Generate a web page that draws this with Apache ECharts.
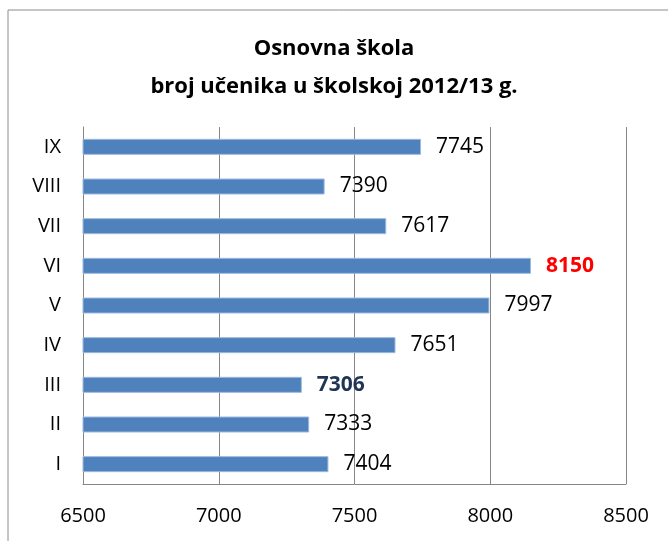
<!DOCTYPE html>
<html>
<head>
<meta charset="utf-8">
<script src="https://cdn.jsdelivr.net/npm/echarts@6/dist/echarts.min.js"></script>
<style>
  html, body { margin: 0; padding: 0; background: #fff; }
  #main { width: 668px; height: 541px; }
</style>
</head>
<body>
<div id="main"></div>
<script>
// razredi i broj ucenika
var categories = ['I', 'II', 'III', 'IV', 'V', 'VI', 'VII', 'VIII', 'IX'];
var values = [7404, 7333, 7306, 7651, 7997, 8150, 7617, 7390, 7745];
var xTicks = [6500, 7000, 7500, 8000, 8500];

var font = '"Open Sans", "Noto Sans", sans-serif';

var barData = values.map(function (v, i) {
  var item = { value: v };
  if (categories[i] === 'VI') {
    item.label = { color: '#ff0000', fontWeight: 'bold' };
  } else if (categories[i] === 'III') {
    item.label = { color: '#1f3553', fontWeight: 'bold' };
  }
  return item;
});

var myChart = echarts.init(document.getElementById('main'));

var option = {
  backgroundColor: '#fff',
  animation: false,
  title: {
    text: 'Osnovna škola\nbroj učenika u školskoj 2012/13 g.',
    left: 'center',
    top: 25,
    textStyle: {
      fontFamily: font,
      fontSize: 22,
      fontWeight: 'bold',
      color: '#000',
      lineHeight: 38
    }
  },
  graphic: [{
    type: 'rect',
    shape: { x: 8, y: 10, width: 700, height: 600 },
    style: { fill: 'none', stroke: '#8c8c8c', lineWidth: 1 },
    silent: true
  }],
  grid: { left: 83, right: 42, top: 127, bottom: 57 },
  xAxis: {
    type: 'value',
    min: xTicks[0],
    max: xTicks[xTicks.length - 1],
    interval: 500,
    axisLine: { show: true, lineStyle: { color: '#868686' } },
    axisTick: { show: false },
    axisLabel: {
      fontFamily: font, fontSize: 20, color: '#000', margin: 22,
      formatter: function (v) { return String(v); }
    },
    splitLine: { show: true, lineStyle: { color: '#868686', width: 1 } }
  },
  yAxis: {
    type: 'category',
    data: categories,
    axisLine: { show: true, lineStyle: { color: '#868686' } },
    axisTick: { show: false },
    axisLabel: { fontFamily: font, fontSize: 20, color: '#000', margin: 22 }
  },
  series: [{
    type: 'bar',
    data: barData,
    barWidth: 16,
    itemStyle: { color: '#4f81bd', borderColor: '#9bb9dd', borderWidth: 1 },
    label: {
      show: true,
      position: 'right',
      distance: 15,
      fontFamily: font,
      fontSize: 21,
      color: '#000'
    }
  }]
};

myChart.setOption(option);
</script>
</body>
</html>
